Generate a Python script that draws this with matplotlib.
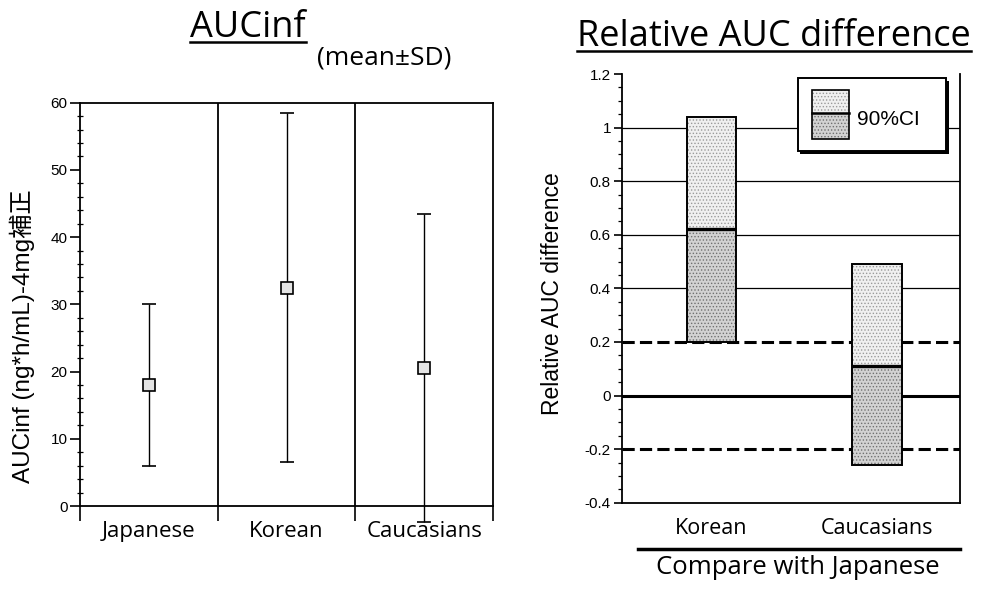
import matplotlib
matplotlib.use("Agg")
import matplotlib.pyplot as plt
from matplotlib.patches import Rectangle
from matplotlib.lines import Line2D
from matplotlib.ticker import MultipleLocator, FixedLocator, FuncFormatter, NullFormatter

plt.rcParams['font.family'] = ['Liberation Sans', 'Noto Sans CJK JP', 'DejaVu Sans']
plt.rcParams['hatch.linewidth'] = 0.6

# AUCinf by population (mean and SD)
groups = ["Japanese", "Korean", "Caucasians"]
auc_mean = [18.0, 32.5, 20.5]
auc_sd = [12.0, 26.0, 22.9]

# Relative AUC difference vs Japanese, point estimate with 90% CI
compared = ["Korean", "Caucasians"]
diff_point = [0.62, 0.11]
ci_low = [0.20, -0.26]
ci_high = [1.04, 0.49]
equiv_margin = 0.2
grid_levels = [0.4, 0.6, 0.8, 1.0]

W, H = 993, 590
fig = plt.figure(figsize=(W / 100, H / 100), dpi=100)
UI_FONT = ['Open Sans', 'DejaVu Sans']


def px_axes(x0, y0, x1, y1):
    return fig.add_axes([x0 / W, 1 - y1 / H, (x1 - x0) / W, (y1 - y0) / H])


def fmt_num(v, _):
    return f"{round(v, 2) + 0:g}"


# ---------------- left panel: AUCinf ----------------
ax1 = px_axes(80, 102.7, 493, 506)
centers = [i + 0.5 for i in range(len(groups))]
eb = ax1.errorbar(centers, auc_mean, yerr=auc_sd, fmt='s', color='black',
                  ecolor='black', elinewidth=1.0, capsize=5, capthick=1.0,
                  markersize=8, markerfacecolor='#e4e4e4',
                  markeredgecolor='black', markeredgewidth=1.2, zorder=3)
for child in eb.get_children():
    child.set_clip_on(False)

ax1.set_xlim(0, len(groups))
ax1.set_ylim(0, 60)
for b in range(1, len(groups)):
    ax1.axvline(b, color='black', lw=1.3, zorder=1)
for s in ax1.spines.values():
    s.set_linewidth(1.3)

ax1.xaxis.set_major_locator(FixedLocator(range(len(groups) + 1)))
ax1.xaxis.set_major_formatter(NullFormatter())
ax1.xaxis.set_minor_locator(FixedLocator(centers))
ax1.set_xticklabels(groups, minor=True)
ax1.tick_params(axis='x', which='major', direction='out', length=11, width=1.2)
ax1.tick_params(axis='x', which='minor', length=0, pad=11, labelsize=16)
for lab in ax1.get_xticklabels(minor=True):
    lab.set_family(UI_FONT)

ax1.yaxis.set_major_locator(MultipleLocator(10))
ax1.yaxis.set_minor_locator(MultipleLocator(2))
ax1.tick_params(axis='y', which='major', direction='out', length=7, width=1.2,
                labelsize=11, pad=2)
ax1.tick_params(axis='y', which='minor', direction='inout', length=5, width=0.9)
ax1.set_ylabel('AUCinf (ng*h/mL)-4mg補正', fontsize=17.5)
ax1.yaxis.set_label_coords(-0.108, 0.42)

# ---------------- right panel: relative AUC difference ----------------
ax2 = px_axes(622, 74, 960, 502.7)
xpos = list(range(len(compared)))
bar_w = 0.3
ax2.set_xlim(-0.54, 1.5)
ax2.set_ylim(-0.4, 1.2)

for g in grid_levels:
    ax2.axhline(g, color='black', lw=0.9, zorder=1)
ax2.axhline(0, color='black', lw=2.2, zorder=1)
for m in (equiv_margin, -equiv_margin):
    ax2.axhline(m, color='black', lw=2.2, ls=(0, (4, 1.7)), zorder=1)

upper_h = [h - p for h, p in zip(ci_high, diff_point)]
lower_h = [p - l for p, l in zip(diff_point, ci_low)]
full_h = [h - l for h, l in zip(ci_high, ci_low)]
ax2.bar(xpos, upper_h, bottom=diff_point, width=bar_w, color='#f0f0f0',
        edgecolor='#9a9a9a', linewidth=0, hatch='.....', zorder=2)
ax2.bar(xpos, lower_h, bottom=ci_low, width=bar_w, color='#d2d2d2',
        edgecolor='#707070', linewidth=0, hatch='.....', zorder=2)
ax2.bar(xpos, full_h, bottom=ci_low, width=bar_w, fill=False,
        edgecolor='black', linewidth=1.4, zorder=3)
ax2.hlines(diff_point, [x - bar_w / 2 for x in xpos],
           [x + bar_w / 2 for x in xpos], color='black', lw=2.4, zorder=4)

ax2.spines['top'].set_visible(False)
for s in ('left', 'right', 'bottom'):
    ax2.spines[s].set_linewidth(1.3)
ax2.set_xticks(xpos, compared)
ax2.tick_params(axis='x', length=0, pad=11, labelsize=15.5)
for lab in ax2.get_xticklabels():
    lab.set_family(UI_FONT)
ax2.yaxis.set_major_locator(MultipleLocator(0.2))
ax2.yaxis.set_minor_locator(MultipleLocator(0.05))
ax2.yaxis.set_major_formatter(FuncFormatter(fmt_num))
ax2.tick_params(axis='y', which='major', direction='out', length=6, width=1.2,
                labelsize=11, pad=2)
ax2.tick_params(axis='y', which='minor', direction='out', length=3, width=0.9)
ax2.set_ylabel('Relative AUC difference', fontsize=16.5)
ax2.yaxis.set_label_coords(-0.172, 0.487)

# legend box for the CI bar
tr = ax2.transAxes
ax2.add_patch(Rectangle((0.527, 0.814), 0.44, 0.17, transform=tr,
                        facecolor='black', edgecolor='none', zorder=5))
ax2.add_patch(Rectangle((0.52, 0.821), 0.44, 0.17, transform=tr,
                        facecolor='white', edgecolor='black', lw=1.4, zorder=6))
ax2.add_patch(Rectangle((0.561, 0.9085), 0.111, 0.0535, transform=tr,
                        facecolor='#f0f0f0', edgecolor='#9a9a9a', lw=0,
                        hatch='.....', zorder=7))
ax2.add_patch(Rectangle((0.561, 0.848), 0.111, 0.0605, transform=tr,
                        facecolor='#d2d2d2', edgecolor='#707070', lw=0,
                        hatch='.....', zorder=7))
ax2.add_patch(Rectangle((0.561, 0.848), 0.111, 0.114, transform=tr,
                        fill=False, edgecolor='black', lw=1.2, zorder=8))
ax2.add_artist(Line2D([0.561, 0.672], [0.9085, 0.9085], transform=tr,
                      color='black', lw=1.8, zorder=8))
ax2.text(0.695, 0.895, '90%CI', transform=tr, fontsize=15, va='center',
         ha='left', zorder=8)

# ---------------- titles and captions ----------------
t1 = fig.text(248 / W, 1 - 28 / H, 'AUCinf', ha='center', va='center',
              fontsize=26, family=UI_FONT)
t2 = fig.text(774 / W, 1 - 37 / H, 'Relative AUC difference', ha='center',
              va='center', fontsize=26, family=UI_FONT)
fig.text(384 / W, 1 - 58 / H, '(mean±SD)', ha='center', va='center',
         fontsize=19, family=UI_FONT)
fig.text(798 / W, 1 - 567 / H, 'Compare with Japanese', ha='center',
         va='center', fontsize=18.5, family=UI_FONT)
fig.add_artist(Line2D([638 / W, 960 / W], [1 - 549 / H, 1 - 549 / H],
                      transform=fig.transFigure, color='black', lw=2.5))

# underline the two panel titles
fig.canvas.draw()
renderer = fig.canvas.get_renderer()
inv = fig.transFigure.inverted()
for t in (t1, t2):
    bb = t.get_window_extent(renderer)
    (x0, y0), (x1, _) = inv.transform([(bb.x0, bb.y0 + 4), (bb.x1, bb.y0 + 4)])
    fig.add_artist(Line2D([x0, x1], [y0, y0], transform=fig.transFigure,
                          color='black', lw=1.8))

fig.savefig('out.png', dpi=100)
